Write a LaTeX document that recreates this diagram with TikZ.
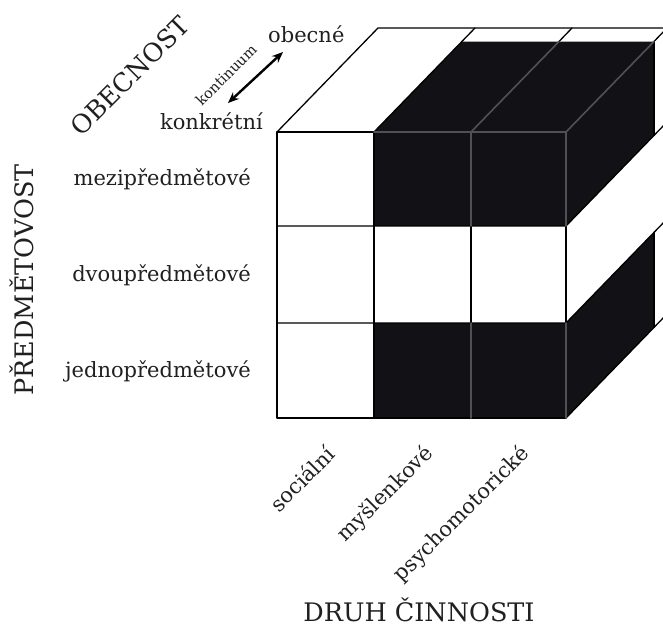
\documentclass[tikz,border=0pt]{standalone}
\usepackage{fontspec}
\setmainfont{DejaVu Serif}
\usetikzlibrary{arrows.meta}
\definecolor{cubeblack}{RGB}{18,18,22}
\definecolor{edgegray}{RGB}{80,80,86}
\definecolor{txt}{RGB}{32,32,32}
\begin{document}
\begin{tikzpicture}[x=1pt,y=-1pt,
  edge/.style={draw=black,line width=1.3pt,line cap=round,line join=round},
  inner/.style={draw=edgegray,line width=1.6pt,line cap=round},
  blk/.style={fill=cubeblack},
  lbl/.style={font=\fontsize{21}{26}\selectfont,inner sep=0pt,text=txt},
  capl/.style={font=\fontsize{25.5}{30}\selectfont,inner sep=0pt,text=txt},
  smalll/.style={font=\fontsize{14.5}{17}\selectfont,inner sep=0pt,text=txt},
  dblarrow/.style={{Stealth[length=11pt,width=9pt]}-{Stealth[length=11pt,width=9pt]},line width=2.4pt}
  ]
\useasboundingbox (0,0) rectangle (663,627);
\clip (0,0) rectangle (663,627);
% front grid
\coordinate (F00) at (277,132); \coordinate (F10) at (374,132); \coordinate (F20) at (471,132); \coordinate (F30) at (566,132);
\coordinate (F01) at (277,226); \coordinate (F11) at (374,226); \coordinate (F21) at (471,226); \coordinate (F31) at (566,226);
\coordinate (F02) at (277,323); \coordinate (F12) at (374,323); \coordinate (F22) at (471,323); \coordinate (F32) at (566,323);
\coordinate (F03) at (277,418); \coordinate (F13) at (374,418); \coordinate (F23) at (471,418); \coordinate (F33) at (566,418);
% outer back
\coordinate (B00) at (378,28); \coordinate (B10) at (475,28); \coordinate (B20) at (572,28); \coordinate (B30) at (667,28);
\coordinate (B31) at (667,122); \coordinate (B32) at (667,219); \coordinate (B33) at (667,314);
% black boxes back
\coordinate (A10) at (462,41.5); \coordinate (A20) at (559,41.5); \coordinate (A30) at (654,41.5); \coordinate (A31) at (654,135.5);
\coordinate (C32) at (654,232.5); \coordinate (C33) at (654,327.5);
% white faces
\fill[white] (F00) -- (F30) -- (B30) -- (B00) -- cycle;
\fill[white] (F30) -- (F33) -- (B33) -- (B30) -- cycle;
\fill[white] (F00) rectangle (F33);
% black faces
\fill[blk] (F10) rectangle (F31);
\fill[blk] (F10) -- (F30) -- (A30) -- (A10) -- cycle;
\fill[blk] (F30) -- (F31) -- (A31) -- (A30) -- cycle;
\fill[blk] (F12) rectangle (F33);
\fill[blk] (F32) -- (F33) -- (C33) -- (C32) -- cycle;
% black edges
\draw[edge] (F10) -- (F00) -- (F03) -- (F33);
\draw[edge] (F01) -- (F31) -- (B31);
\draw[edge] (F02) -- (F32) -- (B32);
\draw[edge] (F33) -- (B33);
\draw[edge] (F10) -- (F13);
\draw[edge] (F21) -- (F22);
\draw[edge] (F31) -- (F32);
\draw[edge] (F00) -- (B00) -- (B30);
\draw[edge] (F10) -- (B10);
\draw[edge] (A20) -- (B20);
\draw[edge] (A30) -- (B30);
\draw[edge] (A30) -- (A31);
\draw[edge] (C32) -- (C33);
% gray edges on black
\draw[inner] (F10) -- (F30);
\draw[inner] (F20) -- (F21);
\draw[inner] (F30) -- (F31);
\draw[inner] (F20) -- (A20);
\draw[inner] (F30) -- (A30);
\draw[inner] (F22) -- (F23);
\draw[inner] (F32) -- (F33);
% labels
\node[lbl, anchor=base east] (l1) at (251,185) {mezipředmětové};
\node[lbl, anchor=base east] (l2) at (251,281) {dvoupředmětové};
\node[lbl, anchor=base east] (l3) at (251,377) {jednopředmětové};
\node[capl, rotate=90, anchor=base] (pr) at (33,280) {PŘEDMĚTOVOST};
\node[capl, rotate=45] (ob) at (130,76) {OBECNOST};
\node[lbl, anchor=base east] (ko) at (263,129) {konkrétní};
\node[lbl, anchor=base west] (oc) at (268,42) {obecné};
\node[smalll, rotate=45] (kt) at (226,75) {kontinuum};
\coordinate (a1) at (228,103); \coordinate (a2) at (283,52);
\draw[dblarrow] (a1) -- (a2);
\node[lbl, rotate=45, anchor=east] (c1) at (331,450) {sociální};
\node[lbl, rotate=45, anchor=east] (c2) at (430,450) {myšlenkové};
\node[lbl, rotate=45, anchor=east] (c3) at (526,450) {psychomotorické};
\node[capl, anchor=base] (dr) at (419,621) {DRUH ČINNOSTI};
\end{tikzpicture}
\end{document}
